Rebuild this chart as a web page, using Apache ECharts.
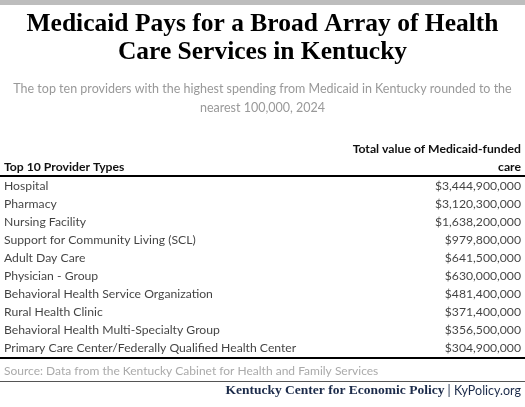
<!DOCTYPE html><html><head><meta charset="utf-8"><script src="https://cdn.jsdelivr.net/npm/echarts@6/dist/echarts.min.js"></script>
<style>html,body{margin:0;padding:0;background:#fff}#c{width:525px;height:407px}</style></head><body><div id="c"></div><script>
const categories=["Hospital","Pharmacy","Nursing Facility","Support for Community Living (SCL)","Adult Day Care","Physician - Group","Behavioral Health Service Organization","Rural Health Clinic","Behavioral Health Multi-Specialty Group","Primary Care Center/Federally Qualified Health Center"];
const values=[3444900000,3120300000,1638200000,979800000,641500000,630000000,481400000,371400000,356500000,304900000];
const F='Lato';
const fmt=v=>'$'+v.toLocaleString('en-US');
const ch=echarts.init(document.getElementById('c'));
ch.setOption({
animation:false,
grid:{left:4,right:4,top:177,height:180},
xAxis:{type:'value',min:0,max:1,show:false},
yAxis:{type:'category',data:categories,inverse:true,show:false},
series:[
{type:'scatter',symbolSize:0,data:categories.map((c,i)=>[0,i]),label:{show:true,position:'right',distance:0,formatter:p=>categories[p.dataIndex],fontFamily:F,fontSize:12.2,color:'#111'}},
{type:'scatter',symbolSize:0,data:values.map((v,i)=>[1,i]),label:{show:true,position:'left',distance:0,formatter:p=>fmt(values[p.dataIndex]),fontFamily:F,fontSize:12.2,color:'#111'}}
],
graphic:[
{type:'rect',shape:{x:0,y:0,width:525,height:5},style:{fill:'#bdbdbd'}},
{type:'text',x:262.5,y:10,style:{text:'Medicaid Pays for a Broad Array of Health\nCare Services in Kentucky',font:'bold 25.5px "Liberation Serif"',lineHeight:28,textAlign:'center',fill:'#000'}},
{type:'text',x:262.5,y:79,style:{text:'The top ten providers with the highest spending from Medicaid in Kentucky rounded to the\nnearest 100,000, 2024',font:'12.5px Lato',lineHeight:19,textAlign:'center',fill:'#999'}},
{type:'text',x:521,y:140,style:{text:'Total value of Medicaid-funded\ncare',font:'bold 12.2px Lato',lineHeight:18,textAlign:'right',fill:'#111'}},
{type:'text',x:4,y:161,style:{text:'Top 10 Provider Types',font:'bold 12.2px Lato',fill:'#111'}},
{type:'rect',shape:{x:0,y:175,width:525,height:2},style:{fill:'#000'}},
{type:'rect',shape:{x:0,y:357,width:525,height:2},style:{fill:'#000'}},
{type:'text',x:4,y:365,style:{text:'Source: Data from the Kentucky Cabinet for Health and Family Services',font:'12px Lato',fill:'#aaa'}},
{type:'rect',shape:{x:0,y:381,width:525,height:1},style:{fill:'#555'}},
{type:'text',x:521,y:384,style:{rich:{a:{font:'bold 13.5px "Liberation Serif"',fill:'#1c2b4a'},b:{font:'12.5px Lato',fill:'#1c2b4a'}},text:'{a|Kentucky Center for Economic Policy}{b| | KyPolicy.org}',textAlign:'right'}}
]});
</script></body></html>
